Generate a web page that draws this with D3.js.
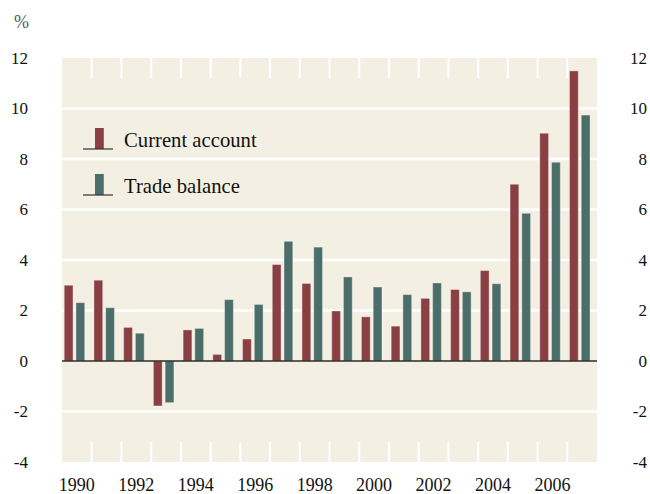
<!DOCTYPE html>
<html>
  <head>
    <meta charset="UTF-8">
    <style>
      body { margin: 0; background: #fff; }
    </style>
  </head>
  <body>
    <svg id="chart" width="650" height="494" font-family="'Liberation Serif', 'DejaVu Serif', serif"></svg>

    <script src="https://d3js.org/d3.v7.min.js"></script>
    <script>
      // data
      var years = [1990, 1991, 1992, 1993, 1994, 1995, 1996, 1997, 1998, 1999,
                   2000, 2001, 2002, 2003, 2004, 2005, 2006, 2007];
      var currentAccount = [3.0, 3.2, 1.33, -1.78, 1.23, 0.26, 0.87, 3.82, 3.07, 1.98,
                            1.75, 1.38, 2.48, 2.83, 3.58, 7.0, 9.02, 11.49];
      var tradeBalance = [2.31, 2.11, 1.1, -1.65, 1.29, 2.43, 2.24, 4.74, 4.51, 3.33,
                          2.93, 2.63, 3.09, 2.74, 3.06, 5.85, 7.87, 9.74];
      var yTicks = [-4, -2, 0, 2, 4, 6, 8, 10, 12];
      var yearLabels = [1990, 1992, 1994, 1996, 1998, 2000, 2002, 2004, 2006];
      var seriesNames = ["Current account", "Trade balance"];

      var red = "#8a3f42",
          teal = "#4c6e6b",
          bg = "#f3f0e3";

      var svg = d3.select("#chart");

      // plot box (note: "top" is taken by window.top)
      var pLeft = 62, pRight = 597, pTop = 58, pBottom = 462;

      var x = d3.scaleBand()
          .domain(years)
          .range([pLeft, pRight])
          .padding(0);

      var y = d3.scaleLinear()
          .domain([-4, 12])
          .range([pBottom, pTop]);

      var slot = x.bandwidth(),
          barW = slot * 0.295;

      // background
      svg.append("rect")
          .attr("x", pLeft)
          .attr("y", pTop)
          .attr("width", pRight - pLeft)
          .attr("height", pBottom - pTop)
          .attr("fill", bg);

      // white gridlines (not on the edges)
      svg.selectAll(".grid")
        .data(yTicks.filter(function(d) { return d !== 0 && d !== 12 && d !== -4; }))
        .enter().append("line")
          .attr("class", "grid")
          .attr("x1", pLeft)
          .attr("x2", pRight)
          .attr("y1", function(d) { return y(d); })
          .attr("y2", function(d) { return y(d); })
          .attr("stroke", "#fff")
          .attr("stroke-width", 2.5);

      // little white ticks between years, top and bottom
      var bounds = years.slice(1);
      svg.selectAll(".tick-top")
        .data(bounds)
        .enter().append("line")
          .attr("class", "tick-top")
          .attr("x1", function(d) { return x(d); })
          .attr("x2", function(d) { return x(d); })
          .attr("y1", pTop)
          .attr("y2", pTop + 20)
          .attr("stroke", "#fff")
          .attr("stroke-width", 2);
      svg.selectAll(".tick-bottom")
        .data(bounds)
        .enter().append("line")
          .attr("class", "tick-bottom")
          .attr("x1", function(d) { return x(d); })
          .attr("x2", function(d) { return x(d); })
          .attr("y1", pBottom - 20)
          .attr("y2", pBottom)
          .attr("stroke", "#fff")
          .attr("stroke-width", 2);

      function bars(values, offset, color) {
        svg.append("g")
          .selectAll("rect")
          .data(values)
          .enter().append("rect")
            .attr("x", function(d, i) { return x(years[i]) + offset; })
            .attr("y", function(d) { return y(Math.max(0, d)); })
            .attr("width", barW)
            .attr("height", function(d) { return Math.abs(y(d) - y(0)); })
            .attr("fill", color)
            .attr("stroke", "rgba(255,255,255,0.35)")
            .attr("stroke-width", 1);
      }

      bars(currentAccount, slot * 0.075, red);
      bars(tradeBalance, slot * 0.47, teal);

      // zero line
      svg.append("line")
          .attr("x1", pLeft)
          .attr("x2", pRight)
          .attr("y1", y(0))
          .attr("y2", y(0))
          .attr("stroke", "#2b2b2b")
          .attr("stroke-width", 1.5);

      // y labels both sides
      svg.selectAll(".ylab-l")
        .data(yTicks)
        .enter().append("text")
          .attr("class", "ylab-l")
          .attr("x", 28)
          .attr("y", function(d) { return y(d); })
          .attr("dy", "0.35em")
          .attr("text-anchor", "end")
          .attr("font-size", 17)
          .attr("fill", "#111")
          .text(function(d) { return d; });
      svg.selectAll(".ylab-r")
        .data(yTicks)
        .enter().append("text")
          .attr("class", "ylab-r")
          .attr("x", 647)
          .attr("y", function(d) { return y(d); })
          .attr("dy", "0.35em")
          .attr("text-anchor", "end")
          .attr("font-size", 17)
          .attr("fill", "#111")
          .text(function(d) { return d; });

      // year labels
      svg.selectAll(".xlab")
        .data(yearLabels)
        .enter().append("text")
          .attr("class", "xlab")
          .attr("x", function(d) { return x(d) + slot / 2; })
          .attr("y", 491)
          .attr("text-anchor", "middle")
          .attr("font-size", 18)
          .attr("fill", "#111")
          .text(function(d) { return d; });

      svg.append("text")
          .attr("x", 14)
          .attr("y", 28)
          .attr("font-size", 18)
          .attr("fill", "#3f625e")
          .text("%");

      // legend
      var legend = svg.append("g")
        .selectAll("g")
        .data(seriesNames)
        .enter().append("g")
          .attr("transform", function(d, i) { return "translate(0," + (149 + i * 46) + ")"; });
      legend.append("rect")
          .attr("x", 95)
          .attr("y", -21)
          .attr("width", barW)
          .attr("height", 21)
          .attr("fill", function(d, i) { return i === 0 ? red : teal; });
      legend.append("line")
          .attr("x1", 83)
          .attr("x2", 113)
          .attr("y1", 0)
          .attr("y2", 0)
          .attr("stroke", "#333")
          .attr("stroke-width", 1.2);
      legend.append("text")
          .attr("x", 124)
          .attr("y", -2)
          .attr("font-size", 20.7)
          .attr("fill", "#111")
          .text(function(d) { return d; });
    </script>
  </body>
</html>
